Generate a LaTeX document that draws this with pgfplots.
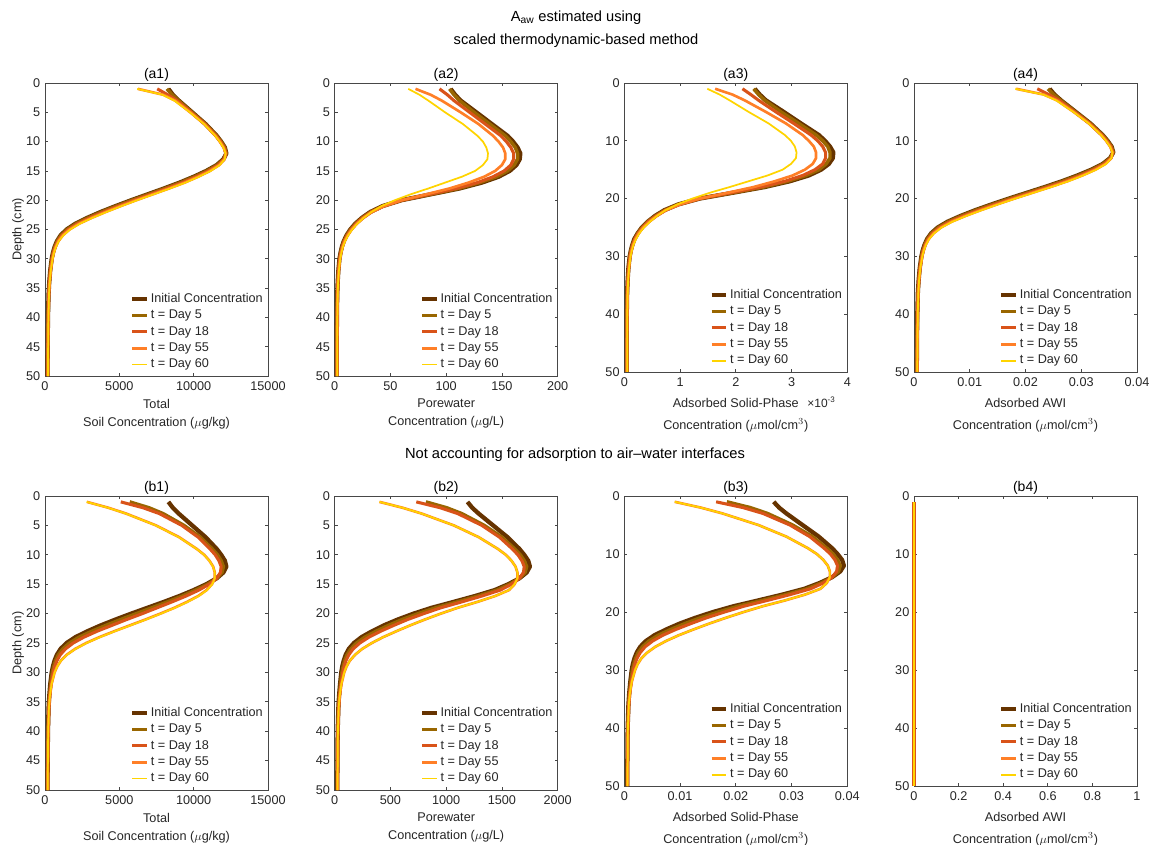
\documentclass[border=0pt]{standalone}
\usepackage{fontspec}
\setmainfont{Liberation Sans}
\usepackage{pgfplots}
\usepackage{pgfplotstable}
\pgfplotsset{compat=1.18}

\definecolor{cI}{RGB}{102,51,0}
\definecolor{cD5}{RGB}{153,102,0}
\definecolor{cD18}{RGB}{217,83,25}
\definecolor{cD55}{RGB}{255,127,39}
\definecolor{cD60}{RGB}{255,212,0}

\pgfplotstableread{
d c0 c5 c18 c55 c60
1 8300 8200 7550 6250 6200
2 8600 8550 8250 7950 7900
3 9000 8980 8880 8750 8700
5 9900 9880 9830 9770 9750
7 10800 10790 10750 10710 10700
9 11550 11540 11500 11460 11450
10 11850 11840 11800 11760 11750
11 12100 12090 12050 12010 12000
12 12200 12190 12175 12155 12150
13 12000 12020 12050 12080 12090
14 11550 11580 11650 11720 11750
15 10850 10900 11000 11100 11150
16 10000 10060 10180 10300 10350
17 9050 9110 9250 9390 9450
18 8000 8060 8200 8340 8400
19 6900 6960 7100 7240 7300
20 5800 5860 6000 6140 6200
21 4750 4810 4950 5090 5150
22 3750 3810 3950 4090 4150
23 2850 2900 3030 3150 3200
24 2050 2100 2200 2300 2350
25 1450 1490 1570 1650 1690
26 1050 1080 1140 1200 1230
27 800 820 860 900 920
28 640 655 685 715 730
29 530 540 565 590 600
30 450 460 480 500 510
32 350 355 370 385 390
34 285 290 300 310 315
36 240 245 255 265 270
40 200 205 215 225 230
45 180 185 195 205 210
50 170 175 185 195 200
}\tabAone

\pgfplotstableread{
d c0 c5 c18 c55 c60
1 104 103 94 72.5 66
2 108 107 101 86 76
3 113 112 107 96 84
5 127 125 121 113 99
7 141 139 135 129 115
9 155 153 149 142 128
10 160 158 154 147 133
11 164 162 158 151 136
12 166.5 164 160.5 153 137.5
13 166 164 160.5 153 137
14 163 161 158 150 133
15 157 155 152 144 126
16 147 145 142 134 114
17 132 130 128 120 99
18 112 111 109 103 84
19 86 86 85 82 68
20 60 60 60.5 60 54
21 43 43.3 43.8 44.5 42
22 32 32.3 32.8 33.5 33
23 24.5 24.8 25.3 26 26
24 18.5 18.8 19.3 20 20.3
25 14 14.3 14.8 15.3 15.7
26 10.6 10.8 11.2 11.7 12
27 8.1 8.3 8.6 9 9.3
28 6.4 6.5 6.8 7.1 7.3
29 5.2 5.3 5.5 5.8 6
30 4.3 4.4 4.6 4.8 5
32 3.3 3.4 3.5 3.7 3.8
34 2.7 2.8 2.9 3 3.1
36 2.3 2.4 2.5 2.6 2.7
40 2 2.1 2.2 2.3 2.4
45 1.9 2 2.1 2.2 2.3
50 1.9 2 2.1 2.2 2.3
}\tabAtwo

\pgfplotstableread{
d c0 c5 c18 c55 c60
1 2.34 2.32 2.12 1.63 1.49
2 2.43 2.41 2.27 1.94 1.71
3 2.54 2.52 2.41 2.16 1.89
5 2.86 2.81 2.72 2.54 2.23
7 3.17 3.13 3.04 2.90 2.59
9 3.49 3.44 3.35 3.20 2.88
10 3.60 3.56 3.47 3.31 2.99
11 3.69 3.65 3.56 3.40 3.06
12 3.75 3.69 3.61 3.44 3.09
13 3.74 3.69 3.61 3.44 3.08
14 3.67 3.62 3.56 3.38 2.99
15 3.53 3.49 3.42 3.24 2.84
16 3.31 3.26 3.20 3.02 2.57
17 2.97 2.93 2.88 2.70 2.23
18 2.52 2.50 2.45 2.32 1.89
19 1.94 1.94 1.91 1.85 1.53
20 1.35 1.35 1.36 1.35 1.22
21 0.97 0.97 0.99 1.00 0.95
22 0.72 0.73 0.74 0.75 0.74
23 0.55 0.56 0.57 0.585 0.585
24 0.42 0.42 0.43 0.45 0.46
25 0.315 0.32 0.33 0.34 0.35
26 0.24 0.24 0.25 0.26 0.27
27 0.18 0.19 0.19 0.20 0.21
28 0.144 0.146 0.153 0.16 0.164
29 0.117 0.119 0.124 0.13 0.135
30 0.097 0.099 0.104 0.108 0.113
32 0.074 0.077 0.079 0.083 0.086
34 0.061 0.063 0.065 0.068 0.07
36 0.052 0.054 0.056 0.059 0.061
40 0.045 0.047 0.05 0.052 0.054
45 0.043 0.045 0.047 0.05 0.052
50 0.043 0.045 0.047 0.05 0.052
}\tabAthree

\pgfplotstableread{
d c0 c5 c18 c55 c60
1 0.02432 0.02403 0.02212 0.01831 0.01817
2 0.02520 0.02505 0.02417 0.02329 0.02315
3 0.02637 0.02631 0.02602 0.02564 0.02549
5 0.02901 0.02895 0.02880 0.02863 0.02857
7 0.03164 0.03161 0.03150 0.03138 0.03135
9 0.03384 0.03381 0.03370 0.03358 0.03355
10 0.03472 0.03469 0.03457 0.03446 0.03443
11 0.03545 0.03542 0.03531 0.03519 0.03516
12 0.03575 0.03572 0.03567 0.03561 0.03560
13 0.03516 0.03522 0.03531 0.03539 0.03542
14 0.03384 0.03393 0.03413 0.03434 0.03443
15 0.03179 0.03194 0.03223 0.03252 0.03267
16 0.02930 0.02948 0.02983 0.03018 0.03033
17 0.02652 0.02669 0.02710 0.02751 0.02769
18 0.02344 0.02362 0.02403 0.02444 0.02461
19 0.02022 0.02039 0.02080 0.02121 0.02139
20 0.01699 0.01717 0.01758 0.01799 0.01817
21 0.01392 0.01409 0.01450 0.01491 0.01509
22 0.01099 0.01116 0.01157 0.01198 0.01216
23 0.00835 0.00850 0.00888 0.00923 0.00938
24 0.00601 0.00615 0.00645 0.00674 0.00689
25 0.00425 0.00437 0.00460 0.00483 0.00495
26 0.00308 0.00316 0.00334 0.00352 0.00360
27 0.00234 0.00240 0.00252 0.00264 0.00270
28 0.00188 0.00192 0.00201 0.00209 0.00214
29 0.00155 0.00158 0.00166 0.00173 0.00176
30 0.00132 0.00135 0.00141 0.00147 0.00149
32 0.00103 0.00104 0.00108 0.00113 0.00114
34 0.00084 0.00085 0.00088 0.00091 0.00092
36 0.00070 0.00072 0.00075 0.00078 0.00079
40 0.00059 0.00060 0.00063 0.00066 0.00067
45 0.00053 0.00054 0.00057 0.00060 0.00062
50 0.00050 0.00051 0.00054 0.00057 0.00059
}\tabAfour

\pgfplotstableread{
d c0 c5 c18 c55 c60
1 8300 5700 5100 2820 2800
2 8600 7000 6600 4270 4250
3 9000 7950 7700 5470 5450
5 9900 9350 9200 7470 7450
7 10800 10450 10300 9020 9000
9 11550 11250 11100 10210 10200
10 11850 11600 11450 10710 10700
11 12100 11850 11700 11060 11050
12 12200 12000 11850 11310 11300
13 12000 11900 11800 11420 11420
14 11550 11550 11550 11410 11420
15 10850 10950 11050 11230 11250
16 10000 10150 10350 10870 10900
17 9050 9250 9500 10310 10350
18 8000 8250 8550 9560 9600
19 6900 7200 7550 8710 8750
20 5800 6150 6550 7760 7800
21 4750 5100 5500 6760 6800
22 3750 4100 4500 5710 5750
23 2850 3150 3500 4660 4700
24 2050 2300 2620 3660 3700
25 1450 1650 1900 2770 2800
26 1050 1200 1380 2030 2050
27 800 900 1030 1460 1480
28 640 710 800 1070 1080
29 530 585 655 815 820
30 450 495 550 645 650
32 350 380 415 438 440
34 285 300 325 328 330
36 240 250 270 264 265
40 200 205 220 214 215
45 180 185 200 194 195
50 170 175 190 184 185
}\tabBone

\pgfplotstableread{
d c0 c5 c18 c55 c60
1 1191 818 732 402 402
2 1234 1005 947 610 610
3 1292 1141 1105 782 782
5 1421 1342 1320 1069 1069
7 1550 1500 1478 1292 1292
9 1657 1614 1593 1464 1464
10 1700 1665 1643 1535 1535
11 1736 1700 1679 1586 1586
12 1751 1722 1700 1622 1622
13 1722 1708 1693 1639 1639
14 1657 1657 1657 1639 1639
15 1557 1571 1586 1614 1614
16 1435 1457 1485 1564 1564
17 1260 1288 1322 1441 1441
18 1068 1101 1141 1282 1282
19 871 909 954 1105 1105
20 708 750 799 952 952
21 566 607 655 810 810
22 441 483 530 677 677
23 335 371 412 553 553
24 241 271 308 435 435
25 173 197 226 333 333
26 127 145 166 247 247
27 99 111 127 183 183
28 81 90 101 136 136
29 68 76 85 106 106
30 59 65 73 86 86
32 48 52 57 60 60
34 39 41 44 45 45
36 33 34 37 36 36
40 27 28 30 29 29
45 25 25 27 27 27
50 23 24 26 25 25
}\tabBtwo

\pgfplotstableread{
d c0 c5 c18 c55 c60
1 0.02680 0.01841 0.01647 0.00905 0.00905
2 0.02777 0.02261 0.02131 0.01373 0.01373
3 0.02907 0.02567 0.02486 0.01760 0.01760
5 0.03197 0.03020 0.02970 0.02405 0.02405
7 0.03488 0.03375 0.03326 0.02907 0.02907
9 0.03728 0.03632 0.03584 0.03294 0.03294
10 0.03825 0.03746 0.03697 0.03454 0.03454
11 0.03906 0.03825 0.03778 0.03569 0.03569
12 0.03940 0.03875 0.03825 0.03650 0.03650
13 0.03875 0.03843 0.03809 0.03688 0.03688
14 0.03728 0.03728 0.03728 0.03688 0.03688
15 0.03503 0.03535 0.03569 0.03632 0.03632
16 0.03229 0.03278 0.03341 0.03519 0.03519
17 0.02835 0.02898 0.02975 0.03242 0.03242
18 0.02403 0.02477 0.02567 0.02885 0.02885
19 0.01960 0.02045 0.02147 0.02486 0.02486
20 0.01593 0.01688 0.01798 0.02142 0.02142
21 0.01274 0.01366 0.01474 0.01823 0.01823
22 0.00992 0.01087 0.01193 0.01523 0.01523
23 0.00754 0.00835 0.00927 0.01244 0.01244
24 0.00542 0.00610 0.00693 0.00979 0.00979
25 0.00389 0.00443 0.00509 0.00749 0.00749
26 0.00286 0.00326 0.00374 0.00556 0.00556
27 0.00223 0.00250 0.00286 0.00412 0.00412
28 0.00182 0.00203 0.00227 0.00306 0.00306
29 0.00153 0.00171 0.00191 0.00239 0.00239
30 0.00133 0.00146 0.00164 0.00194 0.00194
32 0.00108 0.00117 0.00128 0.00135 0.00135
34 0.00088 0.00092 0.00099 0.00101 0.00101
36 0.00074 0.00077 0.00083 0.00081 0.00081
40 0.00061 0.00063 0.00068 0.00065 0.00065
45 0.00056 0.00056 0.00061 0.00061 0.00061
50 0.00052 0.00054 0.00059 0.00056 0.00056
}\tabBthree

\pgfplotstableread{
d c0 c5 c18 c55 c60
1 0 0 0 0 0
50 0 0 0 0 0
}\tabBfour

\tikzset{
  sI/.style={cI, line width=3.2pt, line join=round},
  s5/.style={cD5, line width=2.6pt, line join=round},
  s18/.style={cD18, line width=2.3pt, line join=round},
  s55/.style={cD55, line width=2.0pt, line join=round},
  s60/.style={cD60, line width=1.3pt, line join=round},
}

\newcommand{\fivecurves}[1]{%
  \addplot[sI] table[x=c0,y=d]{#1};
  \addplot[s5] table[x=c5,y=d]{#1};
  \addplot[s18] table[x=c18,y=d]{#1};
  \addplot[s55] table[x=c55,y=d]{#1};
  \addplot[s60] table[x=c60,y=d]{#1};
  \legend{Initial Concentration, t = Day 5, t = Day 18, t = Day 55, t = Day 60}%
}

\pgfplotsset{
  panel/.style={
    scale only axis,
    width=167.25pt,
    anchor=north west,
    clip=false,
    y dir=reverse, ymin=0, ymax=50, xmin=0,
    axis line style={black!72, line width=0.55pt},
    every tick/.style={black!72, line width=0.55pt},
    major tick length=2.3pt,
    tick label style={black!85, font=\fontsize{9.5}{11}\selectfont},
    xticklabel style={yshift=-1pt},
    scaled x ticks=false, scaled y ticks=false,
    /pgf/number format/1000 sep={},
    /pgf/number format/assume math mode=true,
    xlabel style={at={(axis description cs:0.5,0)}, anchor=north, align=center,
      black!85, font=\fontsize{9.5}{13.5}\selectfont},
    ylabel style={at={(axis description cs:-0.121,0.5)}, anchor=center,
      black!85, font=\fontsize{9.5}{11}\selectfont},
    title style={black, font=\fontsize{10.5}{12}\selectfont, yshift=-8pt},
    legend style={draw=none, fill=none, at={(0.985,0.012)}, anchor=south east,
      font=\fontsize{9.5}{11}\selectfont, text=black!85, row sep=0.9pt,
      inner xsep=0pt, inner ysep=0pt,
      nodes={inner sep=1.2pt, text height=7pt, text depth=2pt}},
    legend cell align=left,
    legend image code/.code={\draw[##1, line cap=butt] (0pt,0pt) -- (11pt,0pt);},
  },
  tall/.style={height=219.75pt, xlabel style={yshift=-13.6pt}},
  short/.style={height=216.75pt, xlabel style={yshift=-15.9pt}},
  btall/.style={height=220.5pt, xlabel style={yshift=-13.6pt}},
  bshort/.style={height=217.5pt, xlabel style={yshift=-15.9pt}},
}

\begin{document}
\begin{tikzpicture}
\path[use as bounding box] (0pt,0pt) rectangle (861.75pt,-633.75pt);

\node[font=\fontsize{11}{12}\selectfont] at (432pt,-13.5pt) {A\textsubscript{aw} estimated using};
\node[font=\fontsize{11}{12}\selectfont] at (432pt,-30.75pt) {scaled thermodynamic-based method};
\node[font=\fontsize{11}{12}\selectfont] at (431.25pt,-341.25pt) {Not accounting for adsorption to air--water interfaces};

% ---------- top row ----------
\begin{axis}[panel, tall, at={(33.75pt,-62.25pt)},
  xmax=15000, xtick={0,5000,10000,15000}, ytick={0,5,...,50},
  title={(a1)}, ylabel={Depth (cm)},
  xlabel={Total\\Soil Concentration ($\mu$g/kg)}]
\fivecurves{\tabAone}
\end{axis}

\begin{axis}[panel, tall, at={(251pt,-62.25pt)},
  xmax=200, xtick={0,50,100,150,200}, ytick={0,5,...,50},
  title={(a2)},
  xlabel={Porewater\\Concentration ($\mu$g/L)}]
\fivecurves{\tabAtwo}
\end{axis}

\begin{axis}[panel, short, at={(468.2pt,-62.25pt)},
  xmax=4, xtick={0,1,2,3,4}, ytick={0,10,...,50},
  title={(a3)},
  xlabel={Adsorbed Solid-Phase\\[3.5pt]Concentration ($\mu$mol/cm$^3$)},
  after end axis/.code={\node[anchor=west, black!85, font=\fontsize{9}{10}\selectfont]
    at (rel axis cs:0.80,0) [yshift=-23pt] {×10\textsuperscript{-3}};}]
\fivecurves{\tabAthree}
\end{axis}

\begin{axis}[panel, short, at={(685.5pt,-62.25pt)},
  xmax=0.04, xtick={0,0.01,0.02,0.03,0.04}, ytick={0,10,...,50},
  xticklabel style={/pgf/number format/fixed, /pgf/number format/precision=2},
  title={(a4)},
  xlabel={Adsorbed AWI\\[3.5pt]Concentration ($\mu$mol/cm$^3$)}]
\fivecurves{\tabAfour}
\end{axis}

% ---------- bottom row ----------
\begin{axis}[panel, btall, at={(33.75pt,-372pt)},
  xmax=15000, xtick={0,5000,10000,15000}, ytick={0,5,...,50},
  title={(b1)}, ylabel={Depth (cm)},
  xlabel={Total\\Soil Concentration ($\mu$g/kg)}]
\fivecurves{\tabBone}
\end{axis}

\begin{axis}[panel, btall, at={(251pt,-372pt)},
  xmax=2000, xtick={0,500,1000,1500,2000}, ytick={0,5,...,50},
  title={(b2)},
  xlabel={Porewater\\Concentration ($\mu$g/L)}]
\fivecurves{\tabBtwo}
\end{axis}

\begin{axis}[panel, bshort, at={(468.2pt,-372pt)},
  xmax=0.04, xtick={0,0.01,0.02,0.03,0.04}, ytick={0,10,...,50},
  xticklabel style={/pgf/number format/fixed, /pgf/number format/precision=2},
  title={(b3)},
  xlabel={Adsorbed Solid-Phase\\[3.5pt]Concentration ($\mu$mol/cm$^3$)}]
\fivecurves{\tabBthree}
\end{axis}

\begin{axis}[panel, bshort, at={(685.5pt,-372pt)},
  xmax=1, xtick={0,0.2,0.4,0.6,0.8,1}, ytick={0,10,...,50},
  xticklabel style={/pgf/number format/fixed, /pgf/number format/precision=1},
  title={(b4)},
  xlabel={Adsorbed AWI\\[3.5pt]Concentration ($\mu$mol/cm$^3$)}]
\fivecurves{\tabBfour}
\end{axis}
\end{tikzpicture}
\end{document}
